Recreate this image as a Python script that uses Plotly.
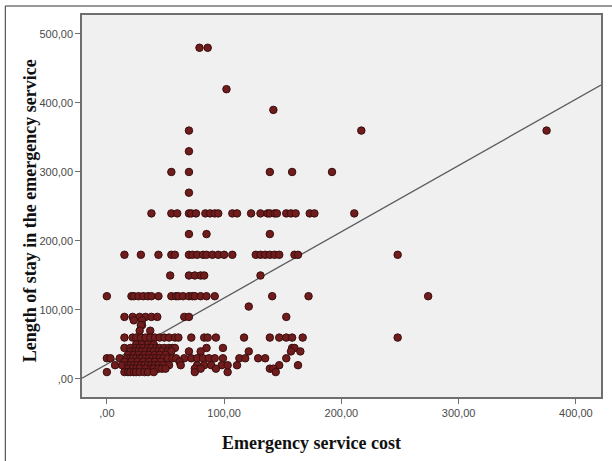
import plotly.graph_objects as go

# Data (Emergency service cost vs Length of stay)
cost = (
    [79, 86]
    + [102]
    + [142]
    + [70, 217, 375]
    + [70]
    + [55, 70, 139, 158, 192]
    + [70]
    + [38, 55, 60, 70, 72, 76, 84, 88, 92, 95, 107, 111, 123, 131, 137, 139, 143, 145, 153, 157, 161, 173, 177, 211]
    + [70, 85, 139]
    + [15, 29, 44, 55, 58, 70, 73, 77, 82, 85, 90, 95, 100, 107, 127, 131, 135, 139, 143, 147, 160, 163, 248]
    + [54, 70, 75, 80, 83, 131]
    + [0, 21, 23, 27, 31, 35, 38, 44, 55, 59, 61, 65, 70, 73, 75, 80, 85, 92, 141, 172, 274]
    + [121]
    + [15, 22, 28, 33, 38, 43, 66, 70, 153]
    + [23, 30]
    + [30, 29]
    + [28, 37]
    + [15, 22, 25, 29, 33, 37, 41, 45, 49, 53, 58, 61, 72, 83, 86, 93, 117, 139, 147, 153, 158, 167, 248]
    + [25, 30, 35, 40]
    + [15, 20, 25, 28, 31, 35, 38, 42, 45, 49, 53, 56, 58, 85, 99, 158, 160]
    + [20, 24, 27, 30, 33, 37, 40, 44, 47, 52, 55, 70, 80, 121, 157, 165]
    + [18, 23, 27, 32, 36, 41, 45, 50]
    + [0, 3, 11, 17, 20, 22, 25, 28, 30, 33, 36, 39, 42, 45, 48, 52, 56, 59, 66, 72, 77, 82, 87, 92, 99, 113, 118, 129, 135, 153]
    + [15, 21, 26, 31, 36, 41, 46, 62]
    + [7, 13, 18, 20, 23, 26, 29, 32, 35, 38, 41, 44, 48, 53, 63, 77, 83, 89, 98, 103, 111, 147, 163]
    + [18, 22, 25, 28, 33, 38, 40, 44, 47, 50, 75, 80, 93, 139, 142]
    + [0, 15, 18, 20, 23, 25, 28, 32, 35, 40, 75, 103, 144]
)

stay = (
    [480] * 2
    + [420] * 1
    + [390] * 1
    + [360] * 3
    + [330] * 1
    + [300] * 5
    + [270] * 1
    + [240] * 24
    + [210] * 3
    + [180] * 23
    + [150] * 6
    + [120] * 21
    + [105] * 1
    + [90] * 9
    + [85] * 2
    + [78] * 2
    + [70] * 2
    + [60] * 23
    + [50] * 4
    + [45] * 17
    + [40] * 16
    + [35] * 8
    + [30] * 30
    + [25] * 8
    + [20] * 23
    + [15] * 15
    + [10] * 13
)

# Fit line (as drawn in the reference)
fit_intercept = 21.4
fit_slope = 0.96
x_range = [-21.2, 421.4]
y_range = [-26.1, 527.5]

x_tick_vals = [0, 100, 200, 300, 400]
x_tick_text = [",00", "100,00", "200,00", "300,00", "400,00"]
y_tick_vals = [0, 100, 200, 300, 400, 500]
y_tick_text = [",00", "100,00", "200,00", "300,00", "400,00", "500,00"]

W, H = 612, 461
L, R, T, B = 82, 9, 15, 64
pw, ph = W - L - R, H - T - B

fig = go.Figure()
fig.add_trace(go.Scatter(
    x=x_range,
    y=[fit_intercept + fit_slope * v for v in x_range],
    mode="lines",
    line=dict(color="#5a5a5a", width=1.3),
    hoverinfo="skip",
    showlegend=False,
))
fig.add_trace(go.Scatter(
    x=cost, y=stay, mode="markers",
    marker=dict(size=7.5, color="#701c1c", line=dict(color="#3a0e0e", width=1)),
    showlegend=False,
))

axis_common = dict(
    showgrid=False, zeroline=False, showline=True, mirror=True,
    linecolor="#6e6e6e", linewidth=1.5,
    ticks="outside", ticklen=5, tickcolor="#6e6e6e", tickwidth=1.2,
    tickfont=dict(family="Arial, Liberation Sans, sans-serif", size=11, color="#4a4a4a"),
)

fig.update_layout(
    width=W, height=H,
    margin=dict(l=L, r=R, t=T, b=B),
    paper_bgcolor="white",
    plot_bgcolor="#f0f0f0",
    xaxis=dict(range=x_range, tickvals=x_tick_vals, ticktext=x_tick_text, **axis_common),
    yaxis=dict(range=y_range, tickvals=y_tick_vals, ticktext=y_tick_text, **axis_common),
    annotations=[
        dict(text="<b>Emergency service cost</b>", xref="paper", yref="paper",
             x=(312 - L) / pw, y=(H - B - 443) / ph, showarrow=False,
             xanchor="center", yanchor="middle",
             font=dict(family="Liberation Serif, Times New Roman, serif", size=18, color="#111111")),
        dict(text="<b>Length of stay in the emergency service</b>", xref="paper", yref="paper",
             x=(30 - L) / pw, y=(H - B - 211) / ph, showarrow=False, textangle=-90,
             xanchor="center", yanchor="middle",
             font=dict(family="Liberation Serif, Times New Roman, serif", size=18, color="#111111")),
    ],
    shapes=[
        dict(type="line", xref="paper", yref="paper",
             x0=(5 - L) / pw, x1=(5 - L) / pw, y0=(H - B - H - 5) / ph, y1=(H - B - 6) / ph,
             line=dict(color="#333333", width=1)),
        dict(type="line", xref="paper", yref="paper",
             x0=(5 - L) / pw, x1=(W + 5 - L) / pw, y0=(H - B - 6) / ph, y1=(H - B - 6) / ph,
             line=dict(color="#333333", width=1)),
    ],
)

fig.write_html("out.html", config={"displayModeBar": False},
               post_script="document.body.style.margin='0';")
